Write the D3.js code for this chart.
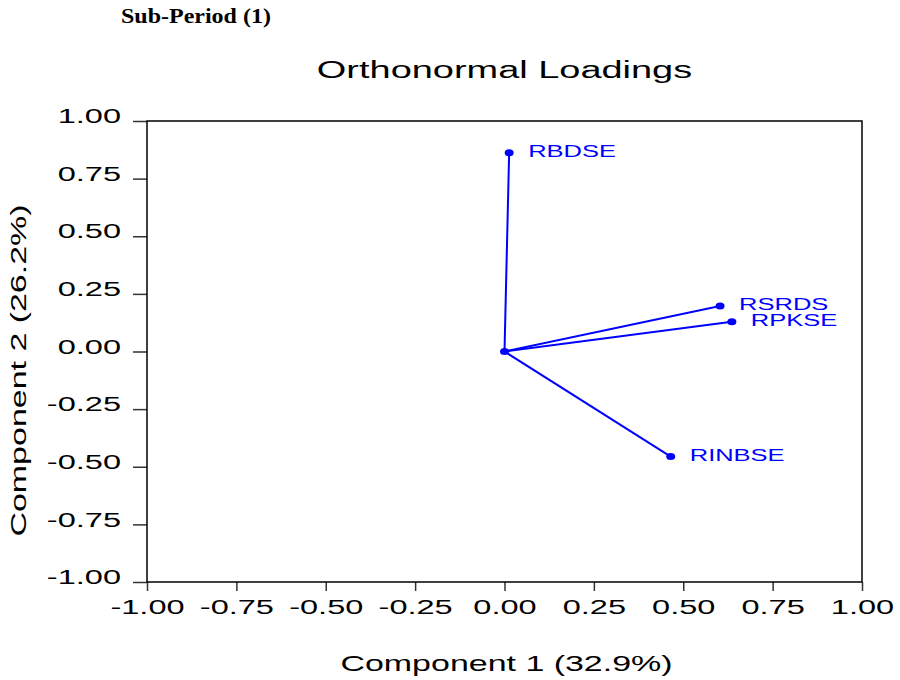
<!DOCTYPE html>
<html>
<head>
<meta charset="utf-8">
<script src="https://cdn.jsdelivr.net/npm/d3@7"></script>
<style>
  body { margin: 0; background: #fff; }
  text { font-family: "Liberation Sans", Arial, sans-serif; }
</style>
</head>
<body>
<div id="chart"></div>
<script>
// loadings
let names = ['RBDSE', 'RSRDS', 'RPKSE', 'RINBSE'];
let comp1 = [0.013, 0.603, 0.636, 0.465];
let comp2 = [0.862, 0.197, 0.129, -0.456];

let tickVals = [-1.00, -0.75, -0.50, -0.25, 0.00, 0.25, 0.50, 0.75, 1.00];

let svgWidth = 900;
let svgHeight = 680;
let margin = { top: 121, right: 38, bottom: 98, left: 147 };
let width = svgWidth - margin.left - margin.right;
let height = svgHeight - margin.top - margin.bottom;

// the original text is stretched sideways
let stretch = 1.55;

let svg = d3.select('#chart').append('svg')
  .attr('width', svgWidth)
  .attr('height', svgHeight);

svg.append('text')
  .attr('transform', 'translate(121, 23) scale(1.2,1)')
  .style('font-family', '"Liberation Serif", "Times New Roman", serif')
  .style('font-weight', 'bold')
  .style('font-size', '20px')
  .text('Sub-Period (1)');

let chartGroup = svg.append('g')
  .attr('transform', `translate(${margin.left}, ${margin.top})`);

let x = d3.scaleLinear().domain([-1, 1]).range([0, width]);
let y = d3.scaleLinear().domain([-1, 1]).range([height, 0]);

// title
chartGroup.append('text')
  .attr('transform', `translate(${width / 2}, -43) scale(1.65,1)`)
  .attr('text-anchor', 'middle')
  .style('font-size', '23px')
  .text('Orthonormal Loadings');

// axes
let yAxis = chartGroup.append('g')
  .call(d3.axisLeft(y).tickValues(tickVals).tickSize(14).tickFormat(d => d.toFixed(2)));
let xAxis = chartGroup.append('g')
  .attr('transform', `translate(0, ${height})`)
  .call(d3.axisBottom(x).tickValues(tickVals).tickSize(9).tickFormat(d => d.toFixed(2)));

[xAxis, yAxis].forEach(ax => {
  ax.select('.domain').remove();
  ax.selectAll('line').attr('stroke', '#333').attr('stroke-width', 1.5);
  ax.selectAll('text')
    .attr('fill', '#000')
    .style('font-family', '"Liberation Sans", Arial, sans-serif')
    .style('font-size', '21px');
});

yAxis.selectAll('text')
  .attr('x', 0)
  .attr('dy', '0.32em')
  .attr('transform', `translate(-26, -5) scale(${stretch},1)`);

xAxis.selectAll('text')
  .attr('y', 0)
  .attr('dy', 0)
  .attr('transform', `translate(0, 32) scale(${stretch},1)`);

// frame
chartGroup.append('rect')
  .attr('width', width)
  .attr('height', height)
  .attr('fill', 'none')
  .attr('stroke', '#000')
  .attr('stroke-width', 1.5);

// axis titles
chartGroup.append('text')
  .attr('transform', `translate(${width / 2 + 2}, ${height + 89}) scale(1.58,1)`)
  .attr('text-anchor', 'middle')
  .style('font-size', '21.5px')
  .text('Component 1 (32.9%)');

chartGroup.append('text')
  .attr('transform', `translate(${-margin.left + 26}, ${height / 2 + 19}) rotate(-90) scale(1.58,1)`)
  .attr('text-anchor', 'middle')
  .style('font-size', '21.5px')
  .text('Component 2 (26.2%)');

// loading vectors
let loadings = names.map((n, i) => ({ name: n, c1: comp1[i], c2: comp2[i] }));

chartGroup.selectAll('.vec')
  .data(loadings)
  .enter()
  .append('line')
  .attr('x1', x(0))
  .attr('y1', y(0))
  .attr('x2', d => x(d.c1))
  .attr('y2', d => y(d.c2))
  .attr('stroke', '#0000ff')
  .attr('stroke-width', 2);

chartGroup.append('ellipse')
  .attr('cx', x(0))
  .attr('cy', y(0))
  .attr('rx', 4.5)
  .attr('ry', 3.5)
  .attr('fill', '#0000ff');

chartGroup.selectAll('.dot')
  .data(loadings)
  .enter()
  .append('ellipse')
  .attr('cx', d => x(d.c1))
  .attr('cy', d => y(d.c2))
  .attr('rx', 4.5)
  .attr('ry', 3.5)
  .attr('fill', '#0000ff');

chartGroup.selectAll('.lbl')
  .data(loadings)
  .enter()
  .append('text')
  .attr('transform', d => `translate(${x(d.c1) + 19}, ${y(d.c2) - 2}) scale(1.5,1)`)
  .attr('dy', '0.35em')
  .attr('fill', '#0000ff')
  .style('font-size', '17px')
  .text(d => d.name);
</script>
</body>
</html>
